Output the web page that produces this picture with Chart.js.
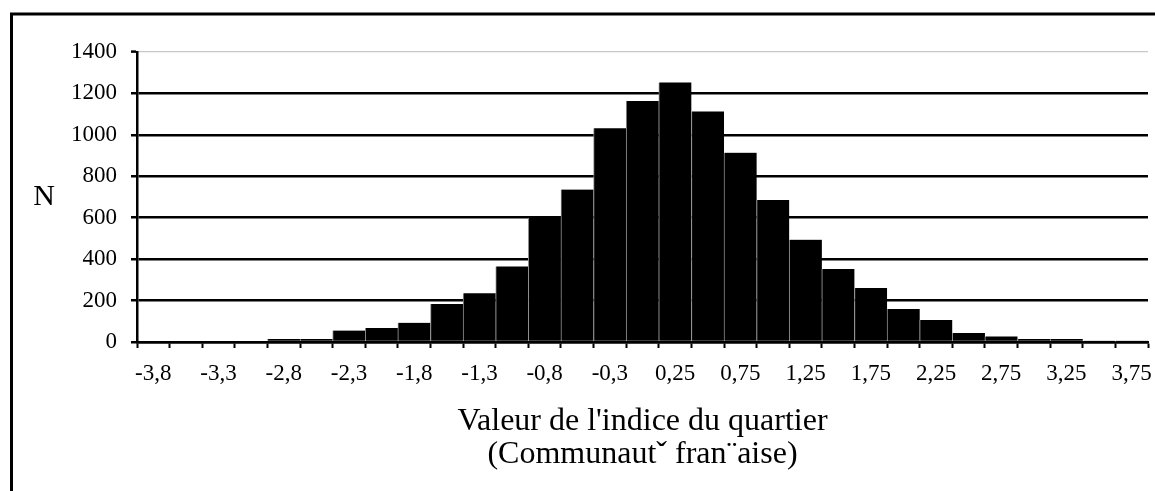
<!DOCTYPE html>
<html>
<head>
<meta charset="utf-8">
<title>Valeur de l'indice du quartier</title>
<script src="https://cdn.jsdelivr.net/npm/chart.js@4/dist/chart.umd.min.js"></script>
<style>
  html, body { margin: 0; padding: 0; background: #fff; }
  #wrap { position: relative; width: 1155px; height: 491px; }
</style>
</head>
<body>
<div id="wrap"><canvas id="histo"></canvas></div>
<script>
/* =========================================
   DATA
========================================= */
const categories = [
  "-3,8", "-3,55", "-3,3", "-3,05", "-2,8", "-2,55", "-2,3", "-2,05",
  "-1,8", "-1,55", "-1,3", "-1,05", "-0,8", "-0,55", "-0,3", "0",
  "0,25", "0,5", "0,75", "1", "1,25", "1,5", "1,75", "2",
  "2,25", "2,5", "2,75", "3", "3,25", "3,5", "3,75"
];
const counts = [
  0, 0, 0, 0, 14, 14, 55, 68,
  93, 183, 235, 365, 600, 736, 1032, 1164,
  1253, 1113, 914, 686, 494, 352, 261, 159,
  106, 43, 27, 14, 14, 2, 1
];
const yTicks = [0, 200, 400, 600, 800, 1000, 1200, 1400];
const yTitle = "N";
const xTitle = ["Valeur de l'indice du quartier", "(Communautˇ fran¨aise)"];

const SERIF = "'Liberation Serif', 'Times New Roman', serif";

/* =========================================
   FRAME + "N" LABEL
========================================= */
const decor = {
  id: "decor",
  beforeDraw(chart) {
    const ctx = chart.ctx;
    ctx.save();
    ctx.strokeStyle = "#000";
    ctx.lineWidth = 3;
    ctx.strokeRect(11.5, 14, 2000, 2000);
    ctx.restore();
  },
  afterDraw(chart) {
    const ctx = chart.ctx;
    const area = chart.chartArea;
    ctx.save();
    ctx.fillStyle = "#000";
    ctx.font = "30px " + SERIF;
    ctx.textAlign = "center";
    ctx.textBaseline = "middle";
    ctx.fillText(yTitle, 44, (area.top + area.bottom) / 2);
    ctx.restore();
  }
};

/* =========================================
   CHART
========================================= */
new Chart(document.getElementById("histo"), {
  type: "bar",
  data: {
    labels: categories,
    datasets: [{
      data: counts,
      backgroundColor: "#000",
      borderColor: "#8c8c8c",
      borderWidth: { left: 1, right: 0, top: 0, bottom: 0 },
      borderSkipped: false,
      categoryPercentage: 1,
      barPercentage: 1
    }]
  },
  options: {
    responsive: true,
    maintainAspectRatio: false,
    animation: false,
    layout: { padding: { left: 0, right: 7, top: 52, bottom: 0 } },
    plugins: {
      legend: { display: false },
      tooltip: { enabled: false }
    },
    scales: {
      x: {
        afterFit(scale) {
          scale.height = 149;
          scale.paddingLeft = 0;
          scale.paddingRight = 0;
        },
        border: { color: "#000", width: 2.5 },
        grid: {
          drawOnChartArea: false,
          drawTicks: true,
          tickLength: 6,
          tickColor: "#000",
          tickWidth: 2
        },
        ticks: {
          autoSkip: false,
          maxRotation: 0,
          color: "#000",
          padding: 12,
          font: { family: SERIF, size: 23 },
          callback: (v, i) => (i % 2 === 0 ? categories[i] : "")
        },
        title: {
          display: true,
          text: xTitle,
          color: "#000",
          font: { family: SERIF, size: 32, lineHeight: "33px" },
          padding: { top: 0, bottom: 20 }
        }
      },
      y: {
        min: yTicks[0],
        max: yTicks[yTicks.length - 1],
        afterFit(scale) { scale.width = 137; },
        afterBuildTicks(scale) { scale.ticks = yTicks.map(v => ({ value: v })); },
        border: { color: "#000", width: 2.5 },
        grid: {
          color: ctx => (ctx.tick && ctx.tick.value === 1400 ? "#c8c8c8" : "#000"),
          lineWidth: ctx => (ctx.tick && ctx.tick.value === 1400 ? 1.2 : 2.5),
          tickColor: "#000",
          tickWidth: 2.5,
          tickLength: 6
        },
        ticks: {
          color: "#000",
          padding: 14,
          font: { family: SERIF, size: 23 },
          callback: v => String(v)
        }
      }
    }
  },
  plugins: [decor]
});
</script>
</body>
</html>
